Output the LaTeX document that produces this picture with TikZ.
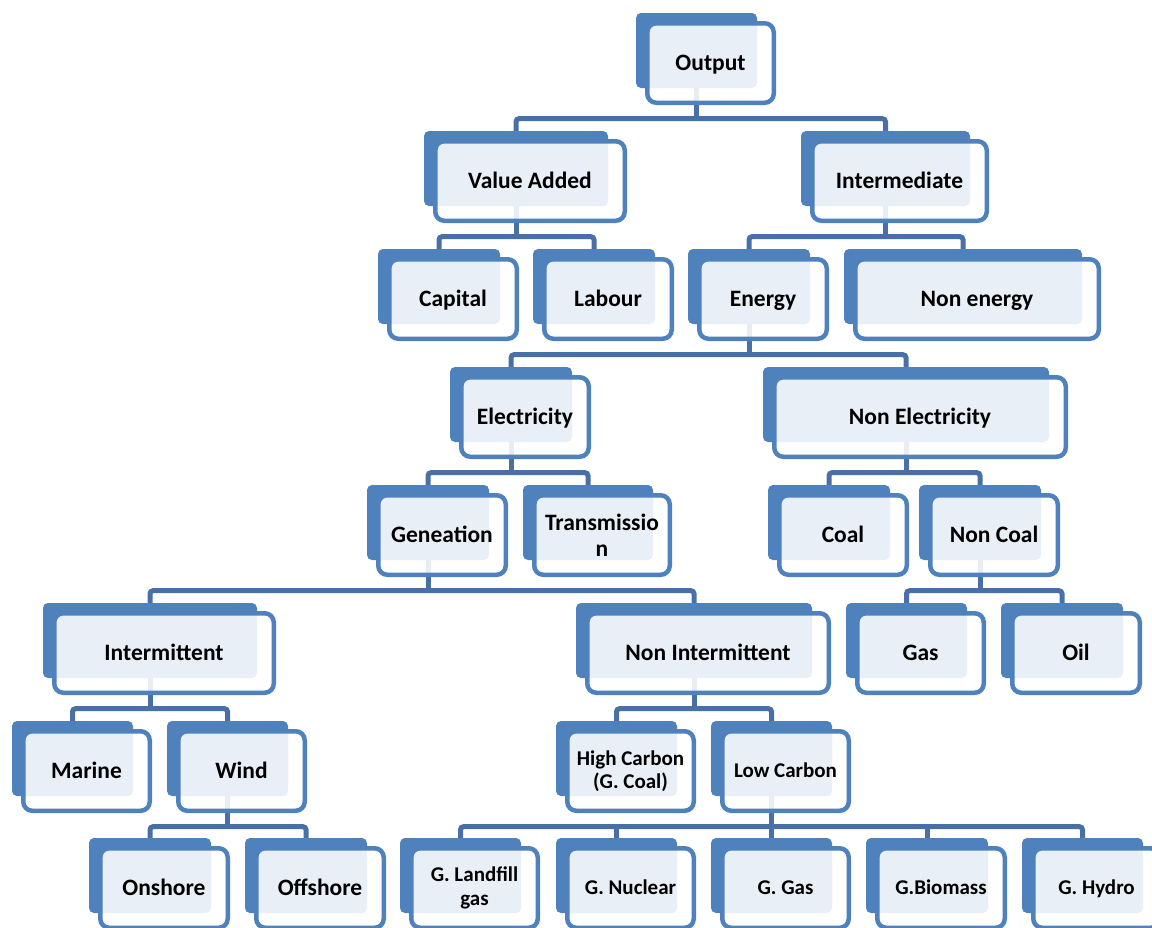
\documentclass[tikz,border=0pt]{standalone}
\usepackage{fontspec}
\setmainfont{Carlito}
\usetikzlibrary{backgrounds}
\definecolor{accent}{HTML}{4F81BD}
\definecolor{linkblue}{HTML}{4870A6}
\tikzset{
  backbox/.style={fill=accent, rounded corners=5pt, minimum height=75pt, inner sep=0pt},
  frontbox/.style={draw=accent, line width=4.5pt, fill=white, fill opacity=0.88,
    text opacity=1, rounded corners=9pt, minimum height=79.5pt, inner sep=0pt,
    align=center, text=black, font=\bfseries\fontsize{23.5}{26}\selectfont,
    text height=15.1pt, text depth=0pt},
  smalltext/.style={font=\bfseries\fontsize{21}{23.5}\selectfont, text height=13.5pt},
  twolines/.style={text height={}, text depth={}},
  conn/.style={draw=linkblue, line width=5pt, rounded corners=3pt},
}
% #2 name, #3 centre x of the tab, #4 top y of the tab, #5 tab width, #6 label
\newcommand\tbox[6][]{%
  \node[backbox, minimum width=#5pt] (#2) at (#3,#4+37.5) {};
  \node[frontbox, minimum width=#5pt+5.5pt, #1] (#2-f) at (#3+14,#4+50) {#6};
}
\begin{document}
\begin{tikzpicture}[x=1pt, y=-1pt]
\useasboundingbox (0,0) rectangle (1152,927);
\clip (0,0) rectangle (1152,927);

\tbox{out}{696.5}{13}{121}{Output}
\tbox{va}{516}{131}{184}{Value Added}
\tbox{int}{885.5}{131}{169}{Intermediate}
\tbox{cap}{439}{249}{122}{Capital}
\tbox{lab}{594}{249}{122}{Labour}
\tbox{ene}{749}{249}{122}{Energy}
\tbox{nen}{963}{249}{238}{Non energy}
\tbox{ele}{511}{367}{122}{Electricity}
\tbox{nel}{906}{367}{286}{Non Electricity}
\tbox{gen}{428}{485}{122}{Geneation}
\tbox[twolines]{tra}{588}{485}{130}{Transmissio\\n}
\tbox{coa}{829}{485}{122}{Coal}
\tbox{nco}{980}{485}{122}{Non Coal}
\tbox{imt}{150}{603}{214}{Intermittent}
\tbox{nim}{694}{603}{236}{Non Intermittent}
\tbox{gas}{906.5}{603}{121}{Gas}
\tbox{oil}{1062}{603}{122}{Oil}
\tbox{mar}{72.5}{721}{121}{Marine}
\tbox{win}{227.5}{721}{121}{Wind}
\tbox[smalltext,twolines]{hic}{616.5}{721}{121}{High Carbon\\(G. Coal)}
\tbox[smalltext]{loc}{771.5}{721}{121}{Low Carbon}
\tbox{ons}{150}{838}{122}{Onshore}
\tbox{off}{306}{838}{122}{Offshore}
\tbox[smalltext,twolines]{glf}{460.5}{838}{121}{G. Landfill\\gas}
\tbox[smalltext]{gnu}{616.5}{838}{121}{G. Nuclear}
\tbox[smalltext]{gga}{771.5}{838}{121}{G. Gas}
\tbox[smalltext]{gbi}{927}{838}{122}{G.Biomass}
\tbox[smalltext]{ghy}{1082.5}{838}{121}{G. Hydro}

\begin{pgfonlayer}{background}
  % parent drops end on the bar that joins the children
  \foreach \p/\a/\b in {out/va/int, va/cap/lab, int/ene/nen, ene/ele/nel,
                        ele/gen/tra, nel/coa/nco, gen/imt/nim, nco/gas/oil,
                        imt/mar/win, nim/hic/loc, win/ons/off, loc/glf/ghy}{
    \draw[conn] (\p.south) -- ++(0,30.5) coordinate (j-\p);
    \draw[conn] (\a.north) |- (j-\p) -| (\b.north);
  }
  % inner children of the five-way split
  \foreach \c in {gnu, gga, gbi}{
    \draw[conn] (\c.north) -- (\c.north |- j-loc);
  }
\end{pgfonlayer}
\end{tikzpicture}
\end{document}
